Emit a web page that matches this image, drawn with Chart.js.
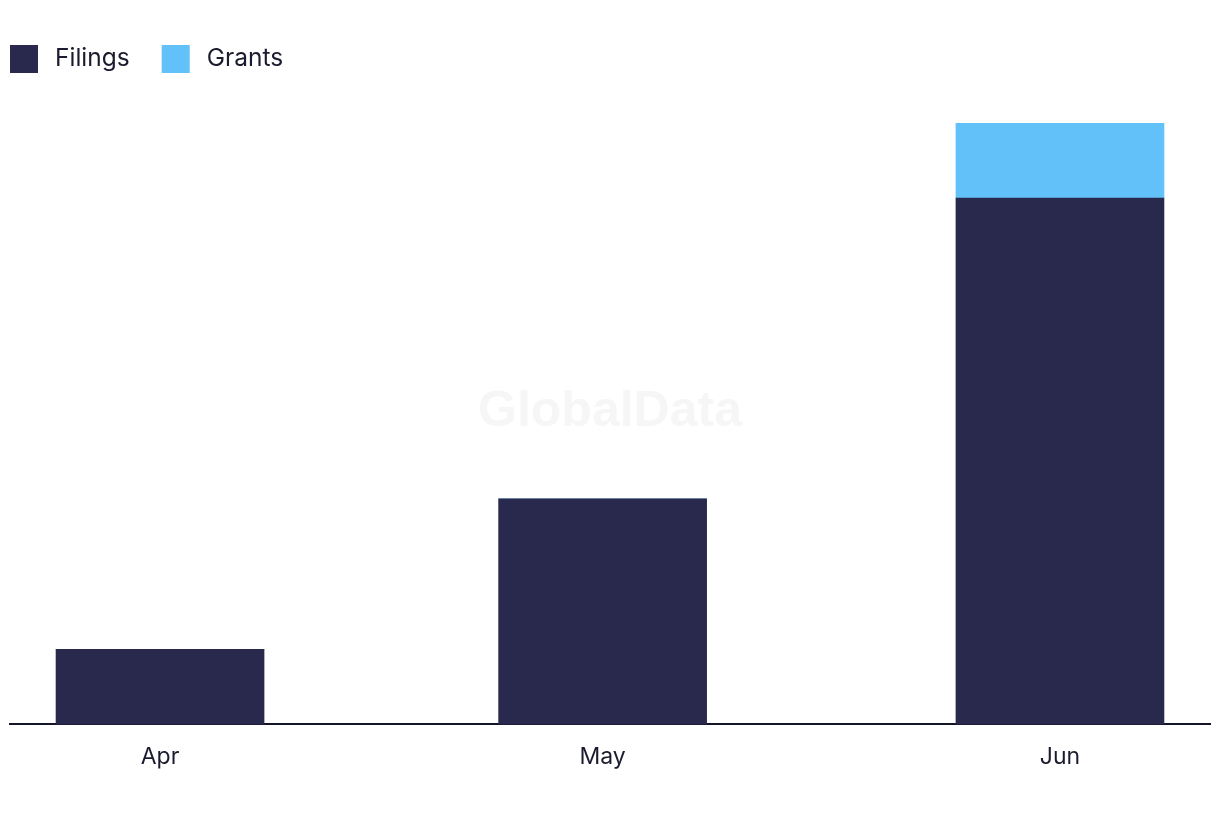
<!DOCTYPE html>
<html>
<head>
<meta charset="utf-8">
<script src="https://cdn.jsdelivr.net/npm/chart.js@4/dist/chart.umd.min.js"></script>
<style>
  html, body { margin: 0; padding: 0; background: #ffffff; }
  #wrap { width: 1220px; height: 822px; position: relative; }
</style>
</head>
<body>
<div id="wrap"><canvas id="c" width="1220" height="822"></canvas></div>
<script>
// ---- data ----
const months = ['Apr', 'May', 'Jun'];
const monthStarts = ['2000-04-01', '2000-05-01', '2000-06-01'];
const filings = [1, 3, 7];
const grants = [0, 0, 1];
const seriesNames = ['Filings', 'Grants'];
const seriesColors = ['#28294C', '#62C1F9'];

// day offsets of each month start (time-proportional x positions)
const t0 = Date.parse(monthStarts[0]);
const dayPos = monthStarts.map(d => Math.round((Date.parse(d) - t0) / 86400000));

const FONT = "Inter, 'Noto Sans', sans-serif";
const TEXT = '#1B1B2F';

const legendPlugin = {
  id: 'customLegend',
  afterDraw(chart) {
    const ctx = chart.ctx;
    ctx.save();
    ctx.font = '400 24.5px ' + FONT;
    ctx.textBaseline = 'middle';
    let x = 10;
    const y = 45, box = 28;
    seriesNames.forEach((name, i) => {
      ctx.fillStyle = seriesColors[i];
      ctx.fillRect(x, y, box, box);
      ctx.fillStyle = TEXT;
      ctx.fillText(name, x + box + 17, y + box / 2);
      x += box + 17 + ctx.measureText(name).width + 32;
    });
    ctx.restore();
  }
};

const watermark = {
  id: 'watermark',
  beforeDatasetsDraw(chart) {
    const ctx = chart.ctx, a = chart.chartArea;
    ctx.save();
    ctx.font = "bold 50px 'Liberation Sans', Arial, sans-serif";
    ctx.fillStyle = '#F6F6F6';
    ctx.textAlign = 'center';
    ctx.textBaseline = 'middle';
    ctx.fillText('GlobalData', (a.left + a.right) / 2, 412);
    ctx.restore();
  }
};

new Chart(document.getElementById('c'), {
  type: 'bar',
  data: {
    datasets: [
      { label: seriesNames[0], data: dayPos.map((x, i) => ({ x, y: filings[i] })),
        backgroundColor: seriesColors[0], barThickness: 208 },
      { label: seriesNames[1], data: dayPos.map((x, i) => ({ x, y: grants[i] })),
        backgroundColor: seriesColors[1], barThickness: 208 }
    ]
  },
  options: {
    responsive: false,
    animation: false,
    layout: { padding: { left: 10, right: 10, top: 123, bottom: 32 } },
    plugins: { legend: { display: false }, tooltip: { enabled: false } },
    scales: {
      x: {
        type: 'linear',
        stacked: true,
        offset: false,
        min: dayPos[0] - 10.17,
        max: dayPos[dayPos.length - 1] + 10.17,
        grid: { display: false, drawTicks: false, offset: false },
        border: { display: true, color: '#15152A', width: 2 },
        afterBuildTicks: axis => { axis.ticks = dayPos.map(v => ({ value: v })); },
        ticks: {
          padding: 19,
          color: TEXT,
          font: { family: FONT, size: 23 },
          maxRotation: 0,
          autoSkip: false,
          callback: (v, i) => months[i]
        }
      },
      y: {
        stacked: true,
        display: false,
        min: 0,
        max: 8
      }
    }
  },
  plugins: [legendPlugin, watermark]
});
</script>
</body>
</html>
